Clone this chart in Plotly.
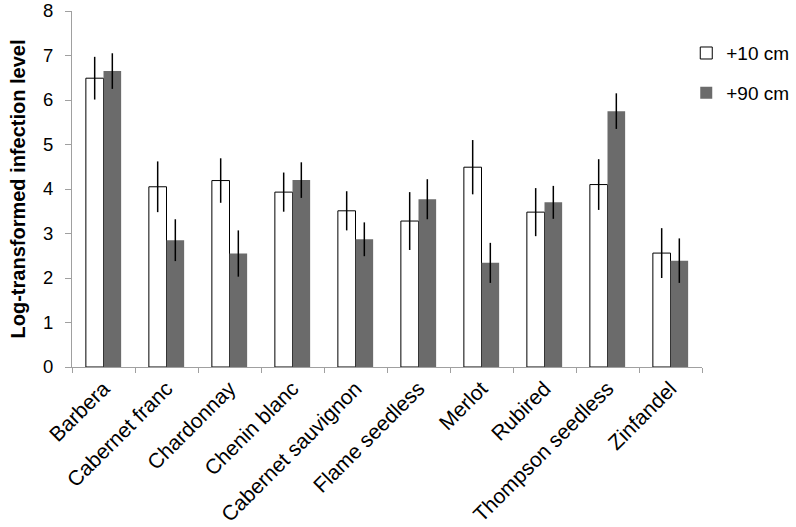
import plotly.graph_objects as go

categories = ["Barbera", "Cabernet franc", "Chardonnay", "Chenin blanc", "Cabernet sauvignon",
              "Flame seedless", "Merlot", "Rubired", "Thompson seedless", "Zinfandel"]
vals_10 = [6.49, 4.05, 4.19, 3.93, 3.51, 3.28, 4.49, 3.48, 4.10, 2.56]
err_10 = [0.48, 0.57, 0.50, 0.44, 0.44, 0.65, 0.61, 0.54, 0.57, 0.56]
vals_90 = [6.65, 2.85, 2.55, 4.20, 2.87, 3.77, 2.34, 3.70, 5.75, 2.39]
err_90 = [0.40, 0.47, 0.52, 0.40, 0.38, 0.45, 0.45, 0.37, 0.40, 0.50]
y_ticks = [0, 1, 2, 3, 4, 5, 6, 7, 8]

fig = go.Figure()
fig.add_trace(go.Bar(
    x=categories, y=vals_10, name="+10 cm", legendgroup="a",
    marker=dict(color="white", line=dict(color="black", width=1)),
    error_y=dict(type="data", array=err_10, color="black", thickness=1.5, width=0),
))
fig.add_trace(go.Bar(
    x=categories, y=vals_90, name="+90 cm", legendgroup="b",
    marker=dict(color="#6b6b6b", line=dict(color="#6b6b6b", width=0)),
    error_y=dict(type="data", array=err_90, color="black", thickness=1.5, width=0),
))

fig.update_layout(
    width=796, height=527,
    margin=dict(l=72, r=94, t=11, b=160, autoexpand=False),
    paper_bgcolor="white", plot_bgcolor="white",
    barmode="group", bargap=0.44, bargroupgap=0,
    font=dict(family="Liberation Sans, Arial, sans-serif", size=16, color="black"),
    showlegend=True,
    legend=dict(x=0.975, y=0.935, xanchor="left", yanchor="top",
                font=dict(size=19), tracegroupgap=12, bgcolor="rgba(0,0,0,0)",
                itemwidth=30),
    xaxis=dict(
        type="category", tickangle=-45, tickson="boundaries", automargin=False,
        ticks="outside", ticklen=5, tickcolor="#a0a0a0",
        showline=True, linecolor="#a0a0a0", linewidth=1,
        tickfont=dict(size=21), showgrid=False,
    ),
    yaxis=dict(
        range=[0, 8], tickvals=y_ticks, ticks="outside", ticklen=6, tickcolor="#a0a0a0",
        showline=True, linecolor="#a0a0a0", linewidth=1, showgrid=False, zeroline=False,
        tickfont=dict(size=18.5), automargin=False, ticklabelstandoff=8,
        title=dict(text="<b>Log-transformed infection level</b>", font=dict(size=20), standoff=12),
    ),
)

fig.write_html("out.html", config={"displayModeBar": False},
               post_script="document.body.style.margin='0';")
